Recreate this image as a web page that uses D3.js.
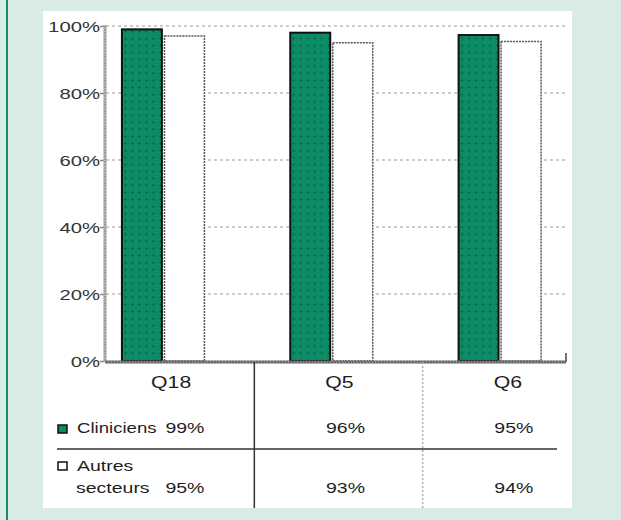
<!DOCTYPE html>
<html>
<head>
<meta charset="utf-8">
<script src="https://cdn.jsdelivr.net/npm/d3@7/dist/d3.min.js"></script>
<style>
  html, body { margin: 0; padding: 0; background: #d9ebe5; }
  svg { display: block; }
  text { font-family: "Liberation Sans", Arial, sans-serif; fill: #1e1e1e; }
</style>
</head>
<body>
<script>
// ---- data ----
const categories = ["Q18", "Q5", "Q6"];
const seriesNames = ["Cliniciens", "Autres secteurs"];
const clinicians = [99, 98, 97.3];      // bar heights as drawn
const others = [97, 95, 95.4];          // bar heights as drawn
const cliniciansLabels = ["99%", "96%", "95%"];   // table values
const othersLabels = ["95%", "93%", "94%"];
const yTicks = [0, 20, 40, 60, 80, 100];

const W = 621, H = 520;
const svg = d3.select("body").append("svg").attr("width", W).attr("height", H);

// background + left green rule
svg.append("rect").attr("width", W).attr("height", H).attr("fill", "#d9ebe5");
svg.append("line").attr("x1", 7).attr("x2", 7).attr("y1", 0).attr("y2", H)
  .attr("stroke", "#1b8a69").attr("stroke-width", 2);

// white panel
svg.append("rect").attr("x", 43).attr("y", 11).attr("width", 529).attr("height", 497).attr("fill", "#ffffff");

// pattern for green bars
const defs = svg.append("defs");
const pat = defs.append("pattern").attr("id", "dots").attr("patternUnits", "userSpaceOnUse")
  .attr("width", 7).attr("height", 7);
pat.append("rect").attr("width", 7).attr("height", 7).attr("fill", "#0b8c67");
pat.append("circle").attr("cx", 3.5).attr("cy", 3.5).attr("r", 0.9).attr("fill", "#06553f");

// scales
const y = d3.scaleLinear().domain([0, 100]).range([361, 26]);
const x = d3.scaleBand().domain(categories).range([79, 584]).paddingInner(0.51).paddingOuter(0.255);
const x1 = d3.scaleBand().domain(seriesNames).range([0, x.bandwidth()]).paddingInner(0.06);
const step = x.step();
const axisLeft = 105, axisRight = 566;

// stretched text helper
function stext(g, tx, ty, str, size, sx, anchor) {
  return g.append("text")
    .attr("transform", `translate(${tx},${ty}) scale(${sx},1)`)
    .attr("text-anchor", anchor || "start")
    .style("font-size", size + "px")
    .text(str);
}

// gridlines
const grid = svg.append("g");
grid.selectAll("line").data(yTicks.filter(d => d > 0)).join("line")
  .attr("x1", axisLeft + 1).attr("x2", axisRight + 2)
  .attr("y1", d => y(d)).attr("y2", d => y(d))
  .attr("stroke", "#9a9a9a").attr("stroke-width", 1).attr("stroke-dasharray", "3,3");

// y axis via d3
const yAxisG = svg.append("g").attr("transform", `translate(${axisLeft},0)`)
  .call(d3.axisLeft(y).tickValues(yTicks).tickSize(5).tickFormat(""));
yAxisG.select(".domain").remove();
yAxisG.selectAll(".tick line").attr("stroke", "#888").attr("stroke-width", 1.5);
yAxisG.selectAll(".tick").each(function(d) {
  stext(d3.select(this), -5, 5.5, d + "%", 14, 1.45, "end").style("fill", "#333");
});
svg.append("line").attr("x1", axisLeft).attr("x2", axisLeft).attr("y1", y(100) - 1).attr("y2", y(0) + 1)
  .attr("stroke", "#9c9c9c").attr("stroke-width", 3);
svg.append("line").attr("x1", axisLeft).attr("x2", axisLeft).attr("y1", y(100) - 1).attr("y2", y(0) + 1)
  .attr("stroke", "#dcdcdc").attr("stroke-width", 1).attr("stroke-dasharray", "1,2");

// bars
const rows = categories.map((c, i) => ({ cat: c, vals: [
  { s: seriesNames[0], v: clinicians[i] },
  { s: seriesNames[1], v: others[i] }
]}));
const groups = svg.append("g").selectAll("g").data(rows).join("g")
  .attr("transform", d => `translate(${x(d.cat)},0)`);
groups.selectAll("rect").data(d => d.vals).join("rect")
  .attr("x", d => x1(d.s))
  .attr("y", d => y(d.v))
  .attr("width", x1.bandwidth())
  .attr("height", d => y(0) - y(d.v))
  .attr("fill", d => d.s === seriesNames[0] ? "url(#dots)" : "#ffffff")
  .attr("stroke", d => d.s === seriesNames[0] ? "#111" : "#555")
  .attr("stroke-width", d => d.s === seriesNames[0] ? 2 : 1.5)
  .attr("stroke-dasharray", d => d.s === seriesNames[0] ? null : "2,1");

// x baseline
svg.append("line").attr("x1", axisLeft).attr("x2", axisRight).attr("y1", y(0) + 1).attr("y2", y(0) + 1)
  .attr("stroke", "#666").attr("stroke-width", 3);
svg.append("line").attr("x1", axisLeft).attr("x2", axisRight).attr("y1", y(0) + 1).attr("y2", y(0) + 1)
  .attr("stroke", "#bbb").attr("stroke-width", 1).attr("stroke-dasharray", "1,2");
svg.append("line").attr("x1", axisRight).attr("x2", axisRight).attr("y1", y(0) - 8).attr("y2", y(0) + 1)
  .attr("stroke", "#444").attr("stroke-width", 1.5);

// table
const tbl = svg.append("g");
const sepX = (c) => x(c) + x.bandwidth() / 2 + step / 2 + 7;
tbl.append("line").attr("x1", sepX(categories[0])).attr("x2", sepX(categories[0]))
  .attr("y1", y(0) + 1).attr("y2", 508).attr("stroke", "#333").attr("stroke-width", 1.5);
tbl.append("line").attr("x1", sepX(categories[1])).attr("x2", sepX(categories[1]))
  .attr("y1", y(0) + 1).attr("y2", 508).attr("stroke", "#aaa").attr("stroke-width", 1.5)
  .attr("stroke-dasharray", "2,2");
tbl.append("line").attr("x1", 57).attr("x2", 557).attr("y1", 449).attr("y2", 449)
  .attr("stroke", "#333").attr("stroke-width", 1.5);

// category labels
categories.forEach((c, i) => {
  stext(tbl, x(c) + x.bandwidth() / 2 + 8, 388, c, 16, 1.33, "middle");
});

// legend markers
tbl.append("rect").attr("x", 58).attr("y", 425).attr("width", 9).attr("height", 8)
  .attr("fill", "#0b8c67").attr("stroke", "#111").attr("stroke-width", 1.5);
tbl.append("rect").attr("x", 58).attr("y", 462).attr("width", 9).attr("height", 8)
  .attr("fill", "#fff").attr("stroke", "#111").attr("stroke-width", 1.5);

stext(tbl, 77, 433, "Cliniciens", 15, 1.24, "start");
stext(tbl, 77, 471, "Autres", 15, 1.3, "start");
stext(tbl, 76, 493, "secteurs", 15, 1.3, "start");

categories.forEach((c, i) => {
  if (i === 0) {
    stext(tbl, x(c) + x.bandwidth(), 433, cliniciansLabels[i], 15, 1.3, "end");
    stext(tbl, x(c) + x.bandwidth(), 493, othersLabels[i], 15, 1.3, "end");
  } else {
    stext(tbl, x(c) + x.bandwidth() / 2 + 14, 433, cliniciansLabels[i], 15, 1.3, "middle");
    stext(tbl, x(c) + x.bandwidth() / 2 + 14, 493, othersLabels[i], 15, 1.3, "middle");
  }
});
</script>
</body>
</html>
